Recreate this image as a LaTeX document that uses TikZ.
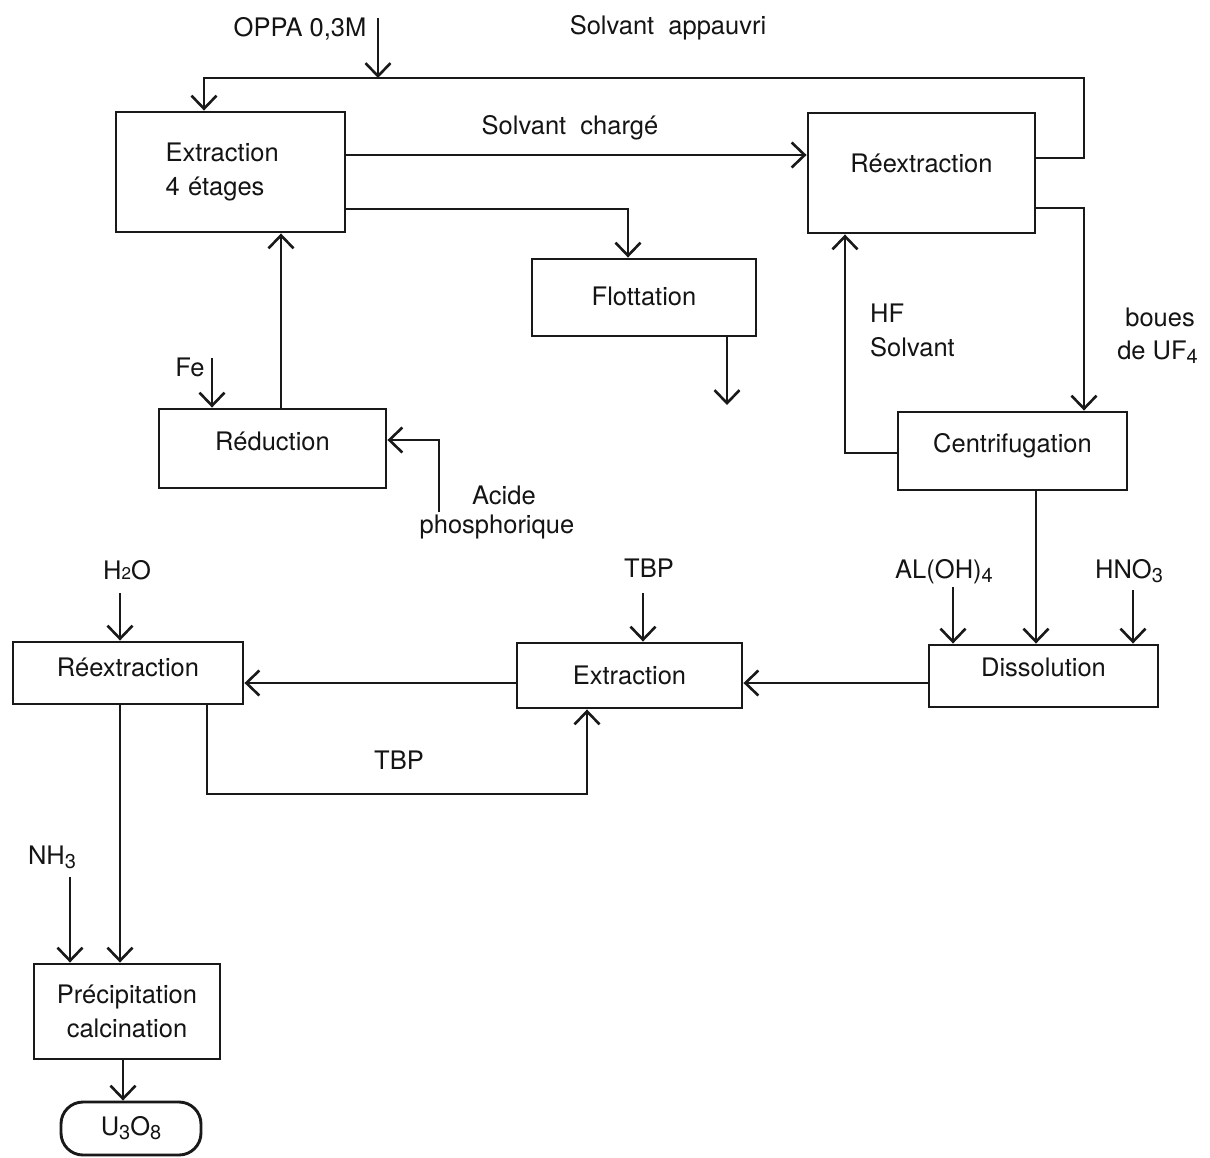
\documentclass[tikz,border=0pt]{standalone}
\usepackage{fontspec}
\setmainfont{TeX Gyre Heros}
\usetikzlibrary{arrows.meta}
\newcommand{\sbs}[1]{\raisebox{-0.3ex}{\fontsize{20}{20}\selectfont #1}}
\newcommand{\sbsm}[1]{\raisebox{-0.05ex}{\fontsize{17}{17}\selectfont #1}}
\begin{document}
\begin{tikzpicture}[x=1pt,y=-1pt,
  every node/.style={font=\fontsize{25.5}{34}\selectfont, inner sep=0pt, text=black!92},
  lbl/.style={text height=18pt, text depth=0pt},
  box/.style 2 args={draw=black!90, line width=2.9pt, minimum width=#1, minimum height=#2, text height=18pt, text depth=0pt},
  ln/.style={draw=black!90, line width=2.9pt},
  arr/.style={ln, -{Straight Barb[length=13pt,width=25pt,line width=2.6pt]}}
]
\useasboundingbox (0,0) rectangle (1210,1157);
\fill[white] (0,0) rectangle (1210,1157);

% boxes
\node[box={229pt}{120pt}, text width=130pt, align=left, text height=, text depth=] (ext4) at (230.5,172) {Extraction\\4 étages};
\node[box={227pt}{120pt}, text depth=20pt] (reex1) at (921.5,173) {Réextraction};
\node[box={224pt}{77pt}, text depth=3pt] (flot) at (644,297.5) {Flottation};
\node[box={227pt}{79pt}, text depth=15pt] (reduc) at (272.5,448.5) {Réduction};
\node[box={229pt}{78pt}, text depth=16pt] (centri) at (1012.5,451) {Centrifugation};
\node[box={229pt}{62pt}, text depth=18pt] (dissol) at (1043.5,676) {Dissolution};
\node[box={225pt}{65pt}] (ext2) at (629.5,675.5) {Extraction};
\node[box={230pt}{62pt}, text depth=12pt] (reex2) at (128,673) {Réextraction};
\node[box={186pt}{95pt}, align=center, text height=, text depth=] (precip) at (127,1011.5) {Précipitation\\calcination};
\node[box={140pt}{53pt}, rounded corners=22pt, text depth=4pt] (u3o8) at (131,1128.5) {U\sbs{3}O\sbs{8}};

% labels
\node[lbl] (oppa) at (300,27) {OPPA 0,3M};
\node[lbl] (sapp) at (668,25) {Solvant\ \ appauvri};
\node[lbl] (sch) at (570,125) {Solvant\ \ chargé};
\node[lbl] (fe) at (190,367) {Fe};
\node[lbl] (acide) at (504,495) {Acide};
\node[lbl] (phos) at (497,524) {phosphorique};
\node[lbl, anchor=west] (hf) at (870,313) {HF};
\node[lbl, anchor=west] (solv) at (870,347) {Solvant};
\node[lbl, anchor=east] (boues) at (1195,317) {boues};
\node[lbl, anchor=east] (deuf) at (1198,350) {de UF\sbs{4}};
\node[lbl] (aloh) at (944,569) {AL(OH)\sbs{4}};
\node[lbl] (hno) at (1129,569) {HNO\sbs{3}};
\node[lbl] (tbp1) at (649,568) {TBP};
\node[lbl] (tbp2) at (399,760) {TBP};
\node[lbl] (h2o) at (127,570) {H\sbsm{2}O};
\node[lbl] (nh3) at (52,855) {NH\sbs{3}};

% helper coordinates
\coordinate (oppaS) at (378,18);
\coordinate (j1) at (378,78);
\coordinate (c1) at (1084,158);
\coordinate (c2) at (1084,78);
\coordinate (c3) at (204,78);
\coordinate (sc) at (0,155);
\coordinate (f1) at (628,209);
\coordinate (fo) at (727,405);
\coordinate (ru) at (281,0);
\coordinate (feS) at (212,358);
\coordinate (a1) at (439,512);
\coordinate (a2) at (439,440);
\coordinate (b1) at (1084,208);
\coordinate (h1) at (845,453);
\coordinate (d1) at (1036,0);
\coordinate (al) at (953,587);
\coordinate (hn) at (1133,590);
\coordinate (m) at (0,683);
\coordinate (tb) at (643,593);
\coordinate (t1) at (207,794);
\coordinate (t2) at (587,794);
\coordinate (hw) at (120,593);
\coordinate (v) at (120,0);
\coordinate (nh) at (70,877);
\coordinate (u) at (123,0);

% connectors
\draw[arr] (oppaS) -- (j1);
\draw[arr] (reex1.east |- c1) -- (c1) -- (c2) -- (c3) -- (c3 |- ext4.north);
\draw[arr] (ext4.east |- sc) -- (reex1.west |- sc);
\draw[arr] (ext4.east |- f1) -- (f1) -- (f1 |- flot.north);
\draw[arr] (fo |- flot.south) -- (fo);
\draw[arr] (ru |- reduc.north) -- (ru |- ext4.south);
\draw[arr] (feS) -- (feS |- reduc.north);
\draw[arr] (a1) -- (a2) -- (reduc.east |- a2);
\draw[arr] (reex1.east |- b1) -- (b1) -- (b1 |- centri.north);
\draw[arr] (centri.west |- h1) -- (h1) -- (h1 |- reex1.south);
\draw[arr] (d1 |- centri.south) -- (d1 |- dissol.north);
\draw[arr] (al) -- (al |- dissol.north);
\draw[arr] (hn) -- (hn |- dissol.north);
\draw[arr] (dissol.west |- m) -- (ext2.east |- m);
\draw[arr] (ext2.west |- m) -- (reex2.east |- m);
\draw[arr] (tb) -- (tb |- ext2.north);
\draw[arr] (t1 |- reex2.south) -- (t1) -- (t2) -- (t2 |- ext2.south);
\draw[arr] (hw) -- (hw |- reex2.north);
\draw[arr] (v |- reex2.south) -- (v |- precip.north);
\draw[arr] (nh) -- (nh |- precip.north);
\draw[arr] (u |- precip.south) -- (u |- u3o8.north);
\end{tikzpicture}
\end{document}
